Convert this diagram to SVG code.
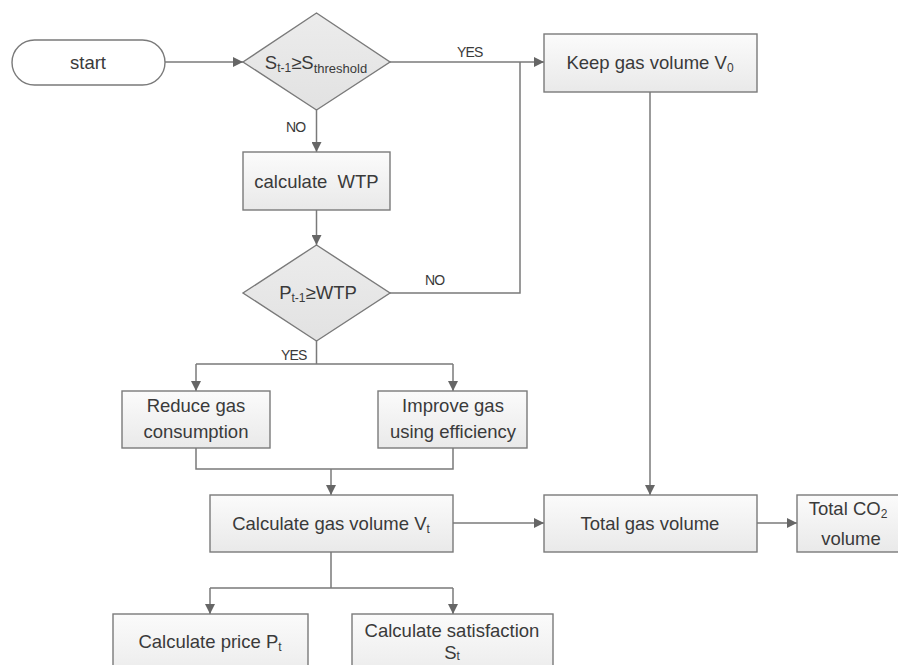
<svg xmlns="http://www.w3.org/2000/svg" width="898" height="665" viewBox="0 0 898 665">
<defs>
<linearGradient id="gbox" x1="0" y1="0" x2="0" y2="1">
<stop offset="0" stop-color="#fbfbfb"/>
<stop offset="1" stop-color="#e9e9e9"/>
</linearGradient>
<linearGradient id="gdia" x1="0" y1="0" x2="0" y2="1">
<stop offset="0" stop-color="#ececec"/>
<stop offset="1" stop-color="#e2e2e2"/>
</linearGradient>
<marker id="arr" markerUnits="userSpaceOnUse" markerWidth="10" markerHeight="10" viewBox="0 0 10 10" refX="10" refY="5" orient="auto">
<path d="M0,0 L10,5 L0,10 z" fill="#666"/>
</marker>
</defs>
<style>
.box{fill:url(#gbox);stroke:#7a7a7a;stroke-width:1.4}
.dia{fill:url(#gdia);stroke:#7a7a7a;stroke-width:1.4}
.t{font-family:"Liberation Sans",Arial,sans-serif;font-size:18.5px;fill:#3a3a3a;text-anchor:middle}
.lbl{font-family:"Liberation Sans",Arial,sans-serif;font-size:14px;fill:#3a3a3a;letter-spacing:-0.8px}
.c{fill:none;stroke:#7a7a7a;stroke-width:1.5}
.a{marker-end:url(#arr)}
</style>
<rect width="898" height="665" fill="#ffffff"/>
<g id="connectors">
<path class="c a" d="M165,62 H243"/>
<path class="c a" d="M390,62 H544"/>
<path class="c a" d="M316.5,110 V152"/>
<path class="c a" d="M316.5,210 V245"/>
<path class="c" d="M390,293 H520 V62"/>
<path class="c" d="M316.5,341 V364 M196,364 H453"/>
<path class="c a" d="M196,364 V391"/>
<path class="c a" d="M453,364 V391"/>
<path class="c" d="M196,448 V469 H453 V448"/>
<path class="c a" d="M331,469 V495"/>
<path class="c a" d="M650,92 V495"/>
<path class="c a" d="M453,523 H544"/>
<path class="c a" d="M757,523 H797"/>
<path class="c" d="M331,552 V588 M210,588 H453"/>
<path class="c a" d="M210,588 V614"/>
<path class="c a" d="M453,588 V614"/>
<text class="lbl" x="457" y="57">YES</text>
<text class="lbl" x="286" y="132">NO</text>
<text class="lbl" x="425" y="285">NO</text>
<text class="lbl" x="281" y="360">YES</text>
</g>
<g id="start">
<rect x="12" y="40" width="153" height="45" rx="22.5" ry="22.5" fill="#ffffff" stroke="#7a7a7a" stroke-width="1.4"/>
<text class="t" x="88" y="69">start</text>
</g>
<g id="d1">
<polygon class="dia" points="316.5,13 390,62 316.5,110 243,62"/>
<text class="t" x="316" y="69">S<tspan font-size="12" dy="3">t-1</tspan><tspan dy="-3">≥S</tspan><tspan font-size="13" dy="4">threshold</tspan></text>
</g>
<g id="wtp">
<rect class="box" x="243" y="152" width="147" height="58"/>
<text class="t" x="316.5" y="188" xml:space="preserve">calculate  WTP</text>
</g>
<g id="d2">
<polygon class="dia" points="316.5,245 390,293 316.5,341 243,293"/>
<text class="t" x="318" y="299">P<tspan font-size="12" dy="3">t-1</tspan><tspan dy="-3">≥WTP</tspan></text>
</g>
<g id="keep">
<rect class="box" x="544" y="34" width="213" height="58"/>
<text class="t" x="650" y="69">Keep gas volume V<tspan font-size="12" dy="3">0</tspan></text>
</g>
<g id="reduce">
<rect class="box" x="122" y="391" width="148" height="57"/>
<text class="t" x="196" y="412">Reduce gas</text>
<text class="t" x="196" y="438">consumption</text>
</g>
<g id="improve">
<rect class="box" x="378" y="391" width="149" height="57"/>
<text class="t" x="453" y="412">Improve gas</text>
<text class="t" x="453" y="438">using efficiency</text>
</g>
<g id="calcv">
<rect class="box" x="210" y="495" width="243" height="57"/>
<text class="t" x="331" y="530">Calculate gas volume V<tspan font-size="12" dy="3">t</tspan></text>
</g>
<g id="total">
<rect class="box" x="544" y="495" width="213" height="57"/>
<text class="t" x="650" y="530">Total gas volume</text>
</g>
<g id="co2">
<rect class="box" x="797" y="495" width="110" height="57"/>
<text class="t" x="848" y="515">Total CO<tspan font-size="12" dy="3">2</tspan></text>
<text class="t" x="851" y="545">volume</text>
</g>
<g id="price">
<rect class="box" x="113" y="614" width="195" height="70"/>
<text class="t" x="210" y="648">Calculate price P<tspan font-size="12" dy="3">t</tspan></text>
</g>
<g id="satis">
<rect class="box" x="352" y="614" width="201" height="70"/>
<text class="t" x="452" y="637">Calculate satisfaction</text>
<text class="t" x="452" y="659">S<tspan font-size="12" dy="1">t</tspan></text>
</g>
</svg>
